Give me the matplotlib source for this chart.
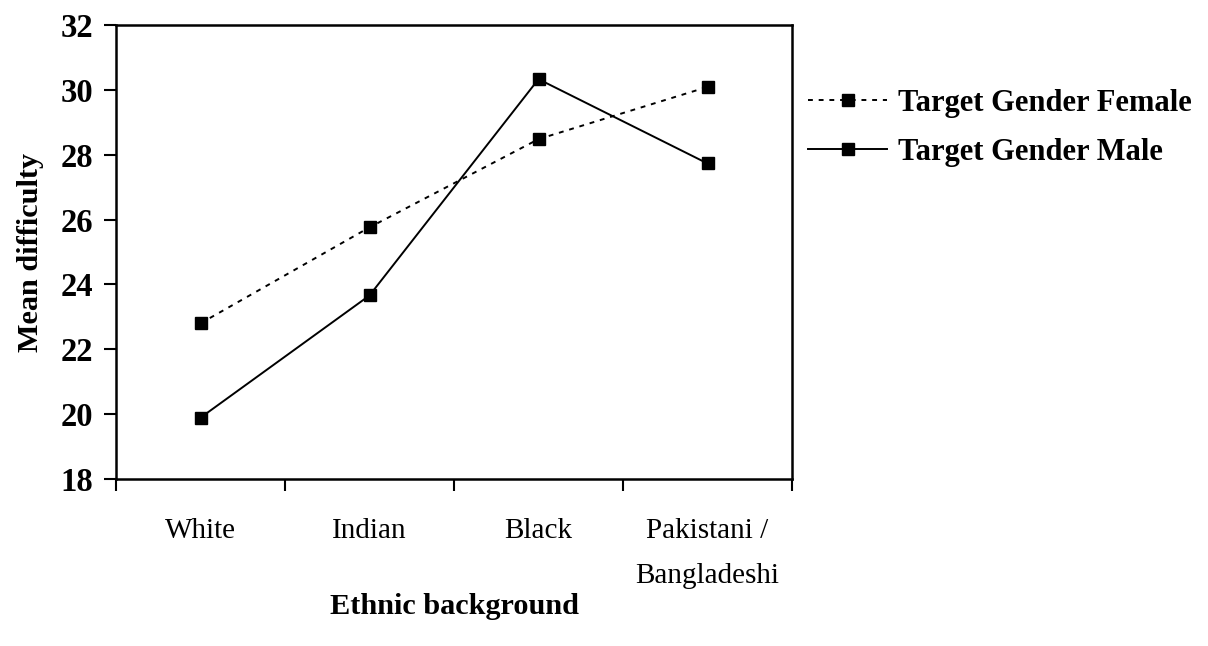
import matplotlib
matplotlib.use("Agg")
import matplotlib.pyplot as plt

categories = ["White", "Indian", "Black", "Pakistani /\nBangladeshi"]
female = [22.8, 25.76, 28.48, 30.09]
male = [19.89, 23.66, 30.33, 27.73]
yticks = [18, 20, 22, 24, 26, 28, 30, 32]

plt.rcParams['font.family'] = ['Liberation Serif', 'DejaVu Serif']

fig = plt.figure(figsize=(12.08, 6.46), dpi=100)
ax = fig.add_axes([116/1208, 1-479/646, (792-116)/1208, (479-25)/646])

x = list(range(len(categories)))
ax.plot(x, female, color='black', linestyle=(0, (2.5, 3)), linewidth=1.4,
        marker='s', markersize=8, label='Target Gender Female')
ax.plot(x, male, color='black', linestyle='-', linewidth=1.4,
        marker='s', markersize=8, label='Target Gender Male')

ax.set_xlim(-0.5, len(categories) - 0.5)
ax.set_ylim(18, 32)
ax.set_yticks(yticks)
ax.set_yticklabels([str(v) for v in yticks], fontsize=23.5, fontweight='bold')
ax.set_xticks([i - 0.5 for i in range(len(categories) + 1)])
ax.set_xticklabels([])
ax.set_xticks(x, minor=True)
ax.set_xticklabels(categories, minor=True, fontsize=21, linespacing=1.95)
ax.tick_params(axis='x', which='minor', length=0, pad=28)
ax.tick_params(axis='both', which='major', length=8.5, width=1.5, direction='out')
ax.tick_params(axis='y', pad=8)
for s in ax.spines.values():
    s.set_linewidth(1.8)

ax.set_xlabel('Ethnic background', fontsize=21.8, fontweight='bold', labelpad=3)
ax.set_ylabel('Mean difficulty', fontsize=21.8, fontweight='bold', labelpad=12)

leg = fig.legend(loc='upper left', bbox_to_anchor=(808/1208, 1-89/646),
                 frameon=False, prop={'size': 22, 'weight': 'bold'},
                 borderpad=0, borderaxespad=0,
                 handlelength=2.6, handletextpad=0.33, labelspacing=0.65)

fig.savefig('out.png', dpi=100)
